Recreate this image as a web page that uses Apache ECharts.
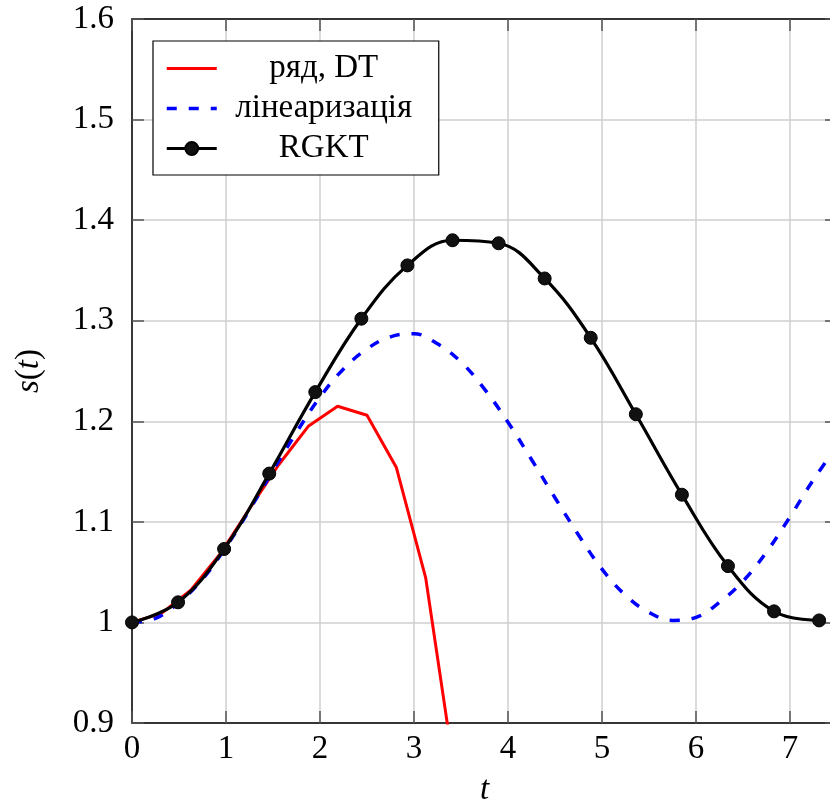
<!DOCTYPE html>
<html>
<head>
<meta charset="utf-8">
<script src="https://cdn.jsdelivr.net/npm/echarts@6/dist/echarts.min.js"></script>
<style>
  html, body { margin: 0; padding: 0; background: #fff; }
  #chart { width: 830px; height: 805px; }
</style>
</head>
<body>
<div id="chart"></div>
<script>
  // ряд, DT
  var tSeries = [0, 0.3125, 0.625, 0.9375, 1.25, 1.5625, 1.875, 2.1875, 2.5, 2.8125, 3.125, 3.4375];
  var sSeries = [1.000, 1.009, 1.032, 1.068, 1.113, 1.157, 1.195, 1.215, 1.206, 1.154, 1.044, 0.847];

  // лінеаризація
  var tLin = [0, 0.25, 0.5, 0.75, 1, 1.25, 1.5, 1.75, 2, 2.25, 2.5, 2.75, 3, 3.25, 3.5, 3.75,
              4, 4.25, 4.5, 4.75, 5, 5.25, 5.5, 5.75, 6, 6.25, 6.5, 6.75, 7, 7.25, 7.5];
  var sLin = [1.000, 1.004, 1.020, 1.043, 1.075, 1.112, 1.151, 1.189, 1.224, 1.252, 1.272, 1.284,
              1.287, 1.277, 1.259, 1.232, 1.199, 1.162, 1.124, 1.087, 1.053, 1.027, 1.010, 1.002,
              1.005, 1.020, 1.041, 1.070, 1.105, 1.142, 1.175];

  // RGKT
  var tRgkt = [0, 0.49, 0.98, 1.46, 1.95, 2.44, 2.93, 3.41, 3.90, 4.39, 4.88, 5.36, 5.85, 6.34, 6.83, 7.31];
  var sRgkt = [1.000, 1.020, 1.073, 1.148, 1.229, 1.302, 1.355, 1.380, 1.377, 1.342, 1.283, 1.207,
               1.127, 1.056, 1.011, 1.002];

  var legendNames = ['ряд, DT', 'лінеаризація', 'RGKT'];

  function zip(xs, ys) {
    return xs.map(function (x, i) { return [x, ys[i]]; });
  }

  var font = 'Liberation Serif';
  var chart = echarts.init(document.getElementById('chart'));

  var tickStyle = { show: true, inside: true, length: 12, lineStyle: { color: '#555', width: 1.5 } };
  var lineAx = { show: true, onZero: false, lineStyle: { color: '#000', width: 1.5 } };

  chart.setOption({
    animation: false,
    backgroundColor: '#fff',
    grid: { left: 132, top: 19, bottom: 82, right: -7, containLabel: false, outerBoundsMode: 'none' },
    legend: {
      orient: 'vertical',
      left: 153,
      top: 41,
      data: [
        { name: legendNames[0], itemStyle: { opacity: 0 }, lineStyle: { width: 3 } },
        { name: legendNames[1], itemStyle: { opacity: 0 }, lineStyle: { width: 3.5 } },
        { name: legendNames[2], lineStyle: { width: 3 } }
      ],
      backgroundColor: '#fff',
      borderColor: '#000',
      borderWidth: 1.2,
      borderRadius: 0,
      padding: [11, 13, 10, 12],
      itemGap: 7,
      itemWidth: 50,
      itemHeight: 16,
      formatter: function (name) { return '{a|' + name + '}'; },
      textStyle: {
        rich: {
          a: { width: 204, align: 'center', fontFamily: font, fontSize: 33, lineHeight: 36, color: '#000' }
        }
      }
    },
    xAxis: [{
      type: 'value',
      min: 0, max: 7.5, interval: 1,
      name: 't',
      nameLocation: 'middle',
      nameGap: 51,
      nameTextStyle: { fontFamily: font, fontSize: 33, fontStyle: 'italic', color: '#000' },
      axisLine: lineAx,
      axisTick: tickStyle,
      axisLabel: {
        fontFamily: font, fontSize: 33, color: '#000', margin: 10,
        showMaxLabel: false,
        formatter: function (v) { return Number.isInteger(v) ? String(v) : ''; }
      },
      splitLine: { show: true, lineStyle: { color: '#cfcfcf', width: 1.5 } }
    }, {
      type: 'value',
      position: 'top',
      min: 0, max: 7.5, interval: 1,
      axisLine: lineAx,
      axisTick: tickStyle,
      axisLabel: { show: false },
      splitLine: { show: false }
    }],
    yAxis: [{
      type: 'value',
      min: 0.9, max: 1.6, interval: 0.1,
      name: '{i|s}{r|(}{i|t}{r|)}',
      nameLocation: 'middle',
      nameRotate: 90,
      nameGap: 86,
      nameTextStyle: {
        rich: {
          i: { fontFamily: font, fontSize: 33, fontStyle: 'italic', color: '#000' },
          r: { fontFamily: font, fontSize: 33, color: '#000' }
        }
      },
      axisLine: lineAx,
      axisTick: tickStyle,
      axisLabel: { fontFamily: font, fontSize: 33, color: '#000', margin: 18 },
      splitLine: { show: true, lineStyle: { color: '#cfcfcf', width: 1.5 } }
    }, {
      type: 'value',
      position: 'right',
      min: 0.9, max: 1.6, interval: 0.1,
      axisLine: lineAx,
      axisTick: tickStyle,
      axisLabel: { show: false },
      splitLine: { show: false }
    }],
    series: [{
      name: legendNames[0],
      type: 'line',
      data: zip(tSeries, sSeries),
      symbol: 'none',
      clip: true,
      lineStyle: { color: '#ff0000', width: 3 },
      itemStyle: { color: '#ff0000' }
    }, {
      name: legendNames[1],
      type: 'line',
      data: zip(tLin, sLin),
      smooth: 0.4,
      symbol: 'none',
      clip: true,
      lineStyle: { color: '#0000ff', width: 3.5, type: [10, 12] },
      itemStyle: { color: '#0000ff' }
    }, {
      name: legendNames[2],
      type: 'line',
      data: zip(tRgkt, sRgkt),
      smooth: 0.4,
      symbol: 'circle',
      symbolSize: 13,
      clip: true,
      lineStyle: { color: '#000', width: 3.2 },
      itemStyle: { color: '#111', borderColor: '#000', borderWidth: 1 }
    }]
  });
</script>
</body>
</html>
